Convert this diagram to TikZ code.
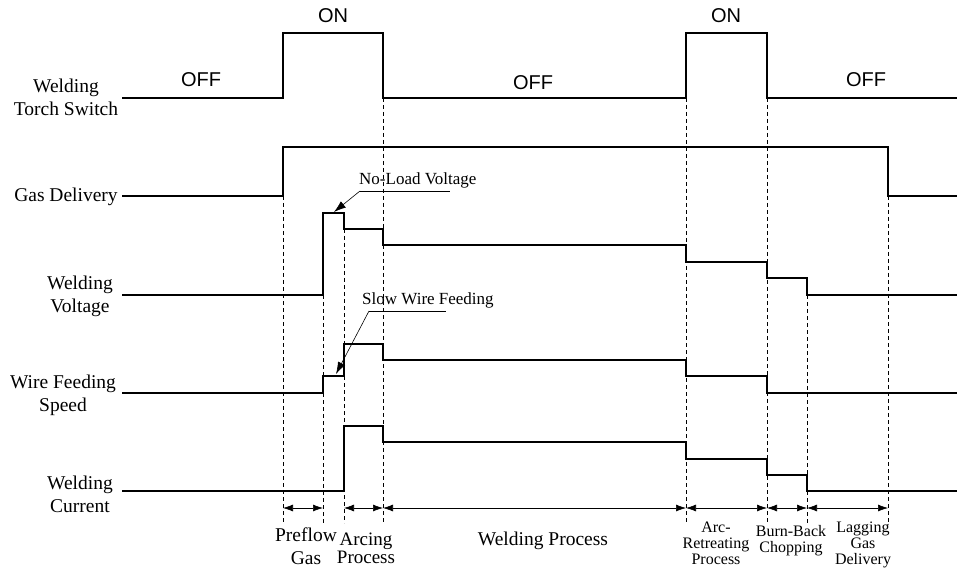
\documentclass[tikz,border=0pt]{standalone}
\usepackage{fontspec}
\setmainfont{Liberation Serif}
\newfontfamily\arialfont{Liberation Sans}
\usetikzlibrary{arrows.meta}

\begin{document}
\begin{tikzpicture}[
  x=1pt, y=-1pt,
  >={Latex[length=10pt, width=7pt]},
  signal/.style={line width=2.6pt, line join=miter},
  guide/.style={line width=0.8pt, dash pattern=on 4pt off 3pt},
  span/.style={<->, line width=0.6pt},
  leader/.style={->, line width=0.6pt, >={Latex[length=12pt, width=8pt]}},
  signame/.style={font=\fontsize{19.5}{23}\selectfont, align=center, inner sep=0pt},
  phase/.style={font=\fontsize{19}{18}\selectfont, align=center, inner sep=0pt},
  smallphase/.style={font=\fontsize{16}{16}\selectfont, align=center, inner sep=0pt},
  state/.style={font=\arialfont\fontsize{20}{24}\selectfont, inner sep=0pt},
  note/.style={font=\fontsize{17}{20}\selectfont, inner sep=0pt, anchor=base west}
]
\useasboundingbox (0,0) rectangle (958,569);

% --- Signal names ---
\node[signame] (torch)   at (66,97.5) {Welding\\Torch Switch};
\node[signame] (gas)     at (66,197)  {Gas Delivery};
\node[signame] (voltage) at (80,296)  {Welding\\Voltage};
\node[signame] (wire)    at (63,395)  {Wire Feeding\\Speed};
\node[signame] (current) at (80,494)  {Welding\\Current};

% --- Switch states ---
\node[state] (off1) at (201,80) {OFF};
\node[state] (on1)  at (333,16) {ON};
\node[state] (off2) at (533,83) {OFF};
\node[state] (on2)  at (726,16) {ON};
\node[state] (off3) at (866,80) {OFF};

% --- Time marks ---
\draw[guide] (283,196) -- (283,523);
\draw[guide] (323,295) -- (323,523);
\draw[guide] (344,229) -- (344,523);
\draw[guide] (383,98)  -- (383,523);
\draw[guide] (686,98)  -- (686,523);
\draw[guide] (767,98)  -- (767,523);
\draw[guide] (807,295) -- (807,523);
\draw[guide] (888,196) -- (888,525);

% --- Waveforms ---
\draw[signal] (122,98) -| (283,33) -| (383,98) -| (686,33) -| (767,98) -- (957,98);
\draw[signal] (122,196) -| (283,147) -| (888,196) -- (957,196);
\draw[signal] (122,295) -| (323,213) -| (344,229) -| (383,245) -| (686,262)
  -| (767,278) -| (807,295) -- (957,295);
\draw[signal] (122,393) -| (323,376) -| (344,344) -| (383,360) -| (686,376)
  -| (767,393) -- (957,393);
\draw[signal] (122,491) -| (344,426) -| (383,442) -| (686,459) -| (767,475)
  -| (807,491) -- (957,491);

% --- Phase spans ---
\coordinate (t1) at (283,508);
\coordinate (t2) at (323,508);
\coordinate (t3) at (344,508);
\coordinate (t4) at (383,508);
\coordinate (t5) at (686,508);
\coordinate (t6) at (767,508);
\coordinate (t7) at (807,508);
\coordinate (t8) at (888,508);

\draw[span] (t1) -- (t2);
\draw[span] (t3) -- (t4);
\draw[span] (t4) -- (t5);
\draw[span] (t5) -- (t6);
\draw[span] (t6) -- (t7);
\draw[span] (t7) -- (t8);

\node[phase, font=\fontsize{19.5}{23}\selectfont] (preflow) at (306,546) {Preflow\\Gas};
\node[phase] (arcing)  at (366,548) {Arcing\\Process};
\node[phase, font=\fontsize{19.5}{23}\selectfont] (welding) at (543,541) {Welding Process};
\node[smallphase] (retreat) at (716,543) {Arc-\\Retreating\\Process};
\node[smallphase] (burn) at (791,541) {Burn-Back\\Chopping};
\node[smallphase] (lag) at (863,545) {Lagging\\Gas\\Delivery};

% --- Callouts ---
\node[note] (noload) at (359,185) {No-Load Voltage};
\coordinate (nlA) at (360,191);
\coordinate (nlB) at (450,191);
\coordinate (nlTip) at (334,212);
\draw[line width=0.6pt] (nlA) -- (nlB);
\draw[leader] (nlA) -- (nlTip);

\node[note] (slow) at (362,305) {Slow Wire Feeding};
\coordinate (swA) at (369,311);
\coordinate (swB) at (446,311);
\coordinate (swTip) at (336,374);
\draw[line width=0.6pt] (swA) -- (swB);
\draw[leader] (swA) -- (swTip);

\end{tikzpicture}
\end{document}
